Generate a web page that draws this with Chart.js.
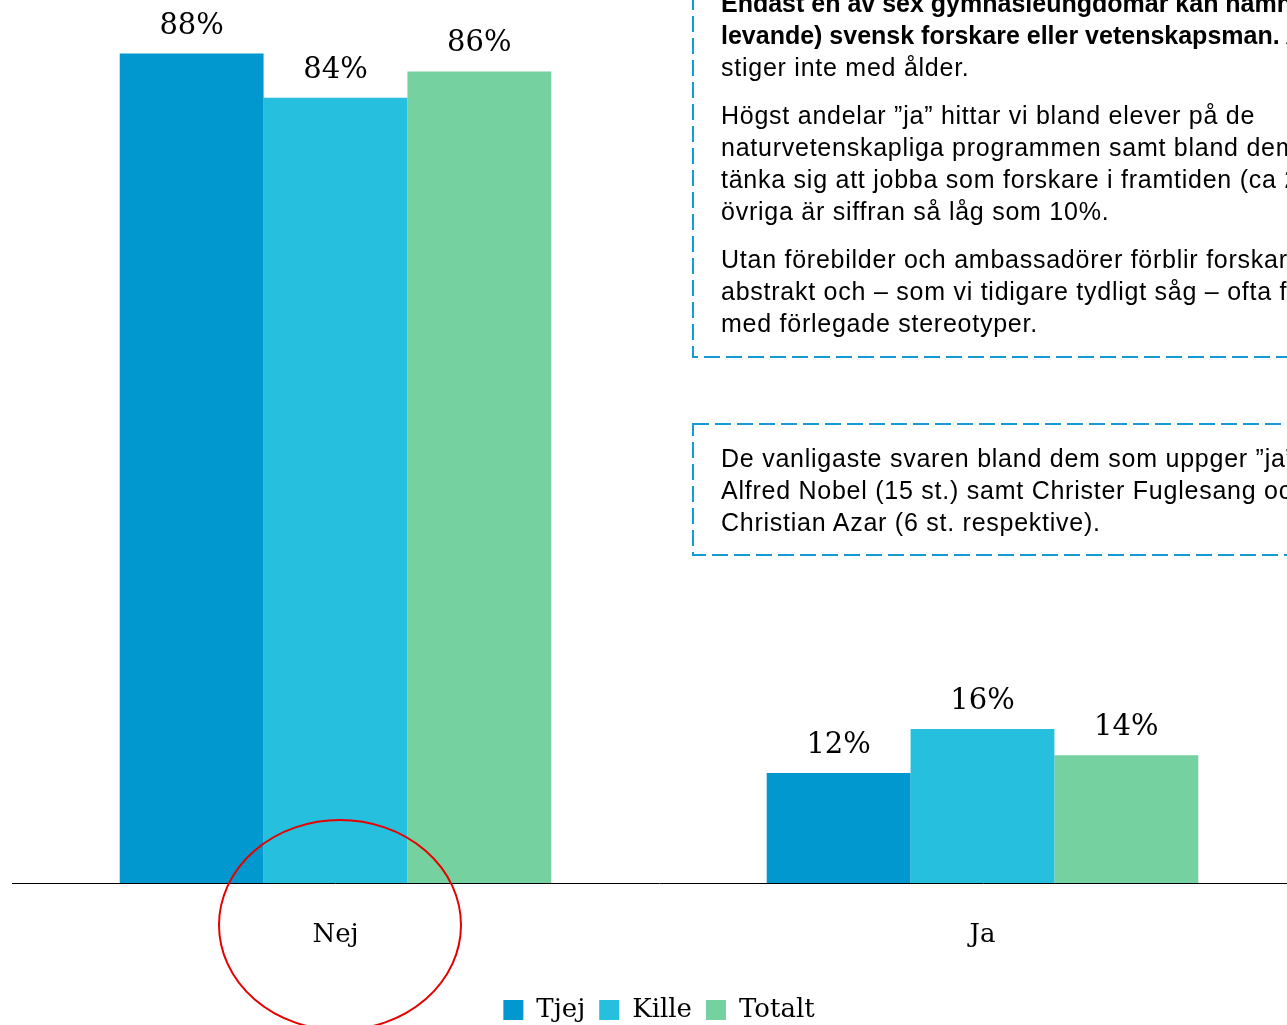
<!DOCTYPE html>
<html>
<head>
<meta charset="utf-8">
<script src="https://cdn.jsdelivr.net/npm/chart.js@4.4.1/dist/chart.umd.min.js"></script>
<style>
  html, body { margin: 0; padding: 0; background: #fff; width: 1287px; height: 1025px; overflow: hidden; position: relative; }
  #wrap { position: absolute; left: 0; top: 0; width: 1306px; height: 1025px; }
  .note { position: absolute; left: 721px; white-space: nowrap; font-family: "Liberation Sans", Arial, sans-serif; font-size: 25px; line-height: 32px; color: #000; letter-spacing: 0.75px; }
  .note p { margin: 0 0 16px 0; }
  .note b { letter-spacing: 0; }
</style>
</head>
<body>
<div id="wrap"><canvas id="c" width="1306" height="1025"></canvas></div>

<div class="note" style="top:-12.7px;">
  <p><b>Endast en av sex gymnasieungdomar kan namnge en (nu<br>levande) svensk forskare eller vetenskapsman.</b> Andelen<br>stiger inte med ålder.</p>
  <p>Högst andelar ”ja” hittar vi bland elever på de<br>naturvetenskapliga programmen samt bland dem som kan<br>tänka sig att jobba som forskare i framtiden (ca 25%). Bland<br>övriga är siffran så låg som 10%.</p>
  <p>Utan förebilder och ambassadörer förblir forskaren<br>abstrakt och – som vi tidigare tydligt såg – ofta förknippad<br>med förlegade stereotyper.</p>
</div>
<div class="note" style="top:442px;">
  <p>De vanligaste svaren bland dem som uppger ”ja” är<br>Alfred Nobel (15 st.) samt Christer Fuglesang och<br>Christian Azar (6 st. respektive).</p>
</div>

<script>
// ---- data ----
const categories = ['Nej', 'Ja'];
const seriesNames = ['Tjej', 'Kille', 'Totalt'];
const tjej = [88.3, 11.7];
const kille = [83.6, 16.4];
const totalt = [86.4, 13.6];
const yMax = 94;

// ---- styles ----
const colors = ['#0098CE', '#26C0DE', '#76D1A0'];
const chartFont = '"DejaVu Serif", "Liberation Serif", serif';

const valueLabels = {
  id: 'valueLabels',
  afterDatasetsDraw(chart) {
    const ctx = chart.ctx;
    ctx.save();
    ctx.font = '29px ' + chartFont;
    ctx.fillStyle = '#000';
    ctx.textAlign = 'center';
    ctx.textBaseline = 'alphabetic';
    chart.data.datasets.forEach((ds, i) => {
      const meta = chart.getDatasetMeta(i);
      meta.data.forEach((bar, j) => {
        ctx.fillText(Math.round(ds.data[j]) + '%', bar.x, bar.y - 20);
      });
    });
    ctx.restore();
  }
};

const annotations = {
  id: 'annotations',
  afterDraw(chart) {
    const ctx = chart.ctx;
    ctx.save();
    ctx.strokeStyle = '#149BD5';
    ctx.lineWidth = 2;
    ctx.setLineDash([16, 6]);
    ctx.strokeRect(693, -30, 700, 387);
    ctx.strokeRect(693, 424, 700, 131);
    ctx.setLineDash([]);
    ctx.strokeStyle = '#E60000';
    ctx.lineWidth = 2;
    ctx.beginPath();
    ctx.ellipse(340, 925, 121, 105, 0, 0, Math.PI * 2);
    ctx.stroke();
    ctx.restore();
  }
};

const seriesData = [tjej, kille, totalt];

new Chart(document.getElementById('c'), {
  type: 'bar',
  data: {
    labels: categories,
    datasets: seriesNames.map((name, i) => ({
      label: name,
      data: seriesData[i],
      backgroundColor: colors[i],
      borderWidth: 0,
      barPercentage: 1,
      categoryPercentage: 0.667
    }))
  },
  options: {
    responsive: false,
    animation: false,
    devicePixelRatio: 1,
    layout: { padding: { left: 12, right: 0, top: 0, bottom: -8 } },
    scales: {
      x: {
        grid: { display: false, drawTicks: false },
        border: { display: true, color: '#000', width: 1 },
        ticks: { color: '#000', font: { family: chartFont, size: 26 }, padding: 37 },
        afterFit(scale) { scale.height = 100; }
      },
      y: {
        display: false,
        min: 0,
        max: yMax
      }
    },
    plugins: {
      tooltip: { enabled: false },
      legend: {
        position: 'bottom',
        labels: {
          color: '#000',
          font: { family: chartFont, size: 26 },
          boxWidth: 20,
          boxHeight: 20,
          padding: 14
        }
      }
    }
  },
  plugins: [valueLabels, annotations]
});
</script>
</body>
</html>
